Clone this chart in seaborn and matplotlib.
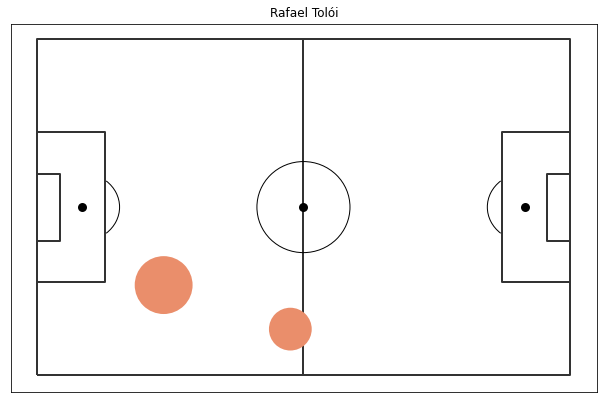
import matplotlib.pyplot as plt
import pandas as pd
import seaborn as sns
from matplotlib.patches import Arc, Ellipse

player = "Rafael Tolói"

# pitch outlines as (x list, y list)
pitch_lines = [
    ([0, 0, 130, 130, 0], [0, 90, 90, 0, 0]),
    ([65, 65], [0, 90]),
    ([0, 16.5, 16.5, 0], [65, 65, 25, 25]),
    ([130, 113.5, 113.5, 130], [65, 65, 25, 25]),
    ([0, 5.5, 5.5, 0], [54, 54, 36, 36]),
    ([130, 124.5, 124.5, 130], [54, 54, 36, 36]),
]

spot_x = [11, 65, 119]
spot_y = [45, 45, 45]

bubble_x = [30.9, 61.8]
bubble_y = [24.1, 12.3]
bubble_size = [3350, 1830]

bubbles = pd.DataFrame({"x": bubble_x, "y": bubble_y, "s": bubble_size})
spots = pd.DataFrame({"x": spot_x, "y": spot_y})

sns.set_style("white")
fig = plt.figure(figsize=(603 / 72, 403 / 72), dpi=72)
ax = fig.add_axes([11.3 / 603, 1 - 392 / 403, 585.7 / 603, 368.5 / 403])

for xs, ys in pitch_lines:
    ax.plot(xs, ys, color="#333333", linewidth=2, solid_capstyle="butt", zorder=1)

ax.add_patch(Ellipse((65, 45), 22.7, 24.4, fill=False, edgecolor="black", linewidth=1, zorder=1))
ax.add_patch(Arc((11, 45), 18.3, 18.3, theta1=310, theta2=50, color="black", linewidth=1, zorder=1))
ax.add_patch(Arc((119, 45), 18.3, 18.3, theta1=130, theta2=230, color="black", linewidth=1, zorder=1))

sns.scatterplot(data=spots, x="x", y="y", color="black", s=81, linewidth=0, ax=ax, zorder=2)
sns.scatterplot(data=bubbles, x="x", y="y", size="s", sizes=(min(bubble_size), max(bubble_size)),
                color="#EA8E6B", linewidth=0, legend=False, ax=ax, zorder=3)

ax.set_xlim(-6.26, 136.6)
ax.set_ylim(-4.55, 94.2)
ax.set_xticks([])
ax.set_yticks([])
ax.set_xlabel("")
ax.set_ylabel("")
for spine in ax.spines.values():
    spine.set_color("black")
    spine.set_linewidth(0.8)
ax.set_title(player, fontsize=12, color="black", pad=6.5)

fig.savefig("out.png", dpi=72)
